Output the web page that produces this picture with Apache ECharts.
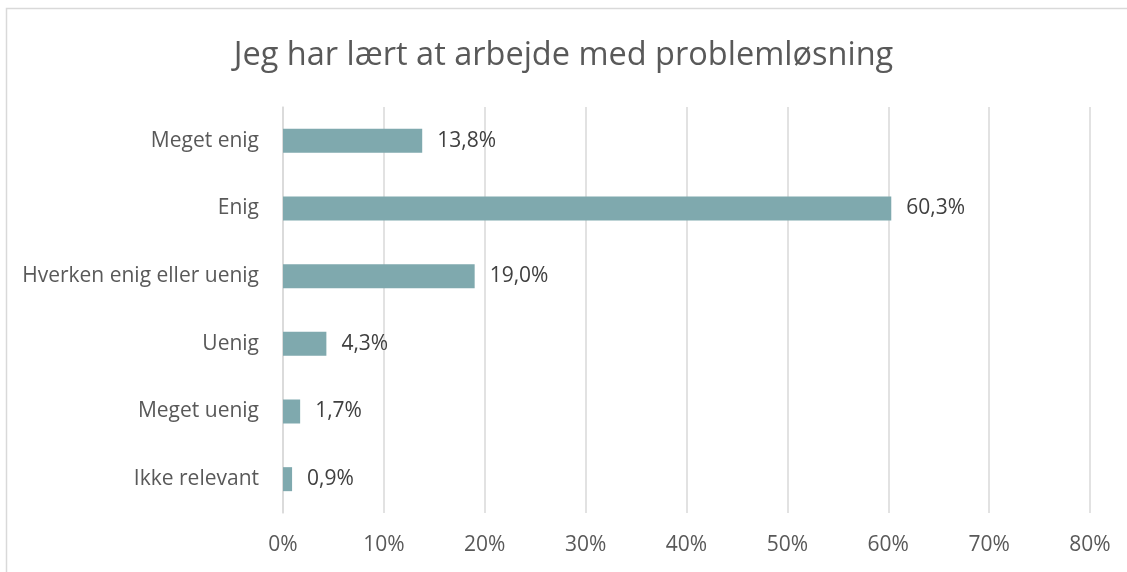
<!DOCTYPE html>
<html>
<head>
<meta charset="utf-8">
<script src="https://cdn.jsdelivr.net/npm/echarts@6/dist/echarts.min.js"></script>
<style>
  html, body { margin: 0; padding: 0; background: #fff; }
  #chart { width: 1127px; height: 572px; }
</style>
</head>
<body>
<div id="chart"></div>
<script>
// kategorier (oppefra og ned)
var categories = ['Meget enig', 'Enig', 'Hverken enig eller uenig', 'Uenig', 'Meget uenig', 'Ikke relevant'];
// andel i procent
var values = [13.8, 60.3, 19.0, 4.3, 1.7, 0.9];
var axisTicks = [0, 10, 20, 30, 40, 50, 60, 70, 80];

var FONT = 'Open Sans';

var chart = echarts.init(document.getElementById('chart'));
chart.setOption({
    backgroundColor: '#fff',
    animation: false,
    graphic: [{
        type: 'rect',
        shape: { x: 6.5, y: 8.5, width: 1200, height: 700 },
        style: { fill: 'none', stroke: '#d9d9d9', lineWidth: 1.5 }
    }],
    title: {
        text: 'Jeg har lært at arbejde med problemløsning',
        left: 'center',
        top: 34,
        textStyle: { fontFamily: FONT, fontSize: 32.5, fontWeight: 'normal', color: '#595959' }
    },
    grid: { left: 283, right: 37, top: 107, bottom: 59 },
    xAxis: {
        type: 'value',
        min: axisTicks[0],
        max: axisTicks[axisTicks.length - 1],
        interval: 10,
        axisLine: { show: false },
        axisTick: { show: false },
        axisLabel: {
            formatter: '{value}%',
            margin: 22,
            fontFamily: FONT, fontSize: 21, color: '#595959'
        },
        splitLine: { lineStyle: { color: '#d9d9d9', width: 1.5 } }
    },
    yAxis: {
        type: 'category',
        inverse: true,
        data: categories,
        axisLine: { show: true, lineStyle: { color: '#d9d9d9', width: 1.5 } },
        axisTick: { show: false },
        axisLabel: { margin: 24, fontFamily: FONT, fontSize: 21, color: '#595959' }
    },
    series: [{
        type: 'bar',
        data: values,
        barWidth: 24,
        itemStyle: { color: '#7fa9ae' },
        label: {
            show: true,
            position: 'right',
            distance: 15,
            formatter: function (p) { return p.value.toFixed(1).replace('.', ',') + '%'; },
            fontFamily: FONT, fontSize: 21, color: '#404040'
        }
    }]
});
</script>
</body>
</html>
